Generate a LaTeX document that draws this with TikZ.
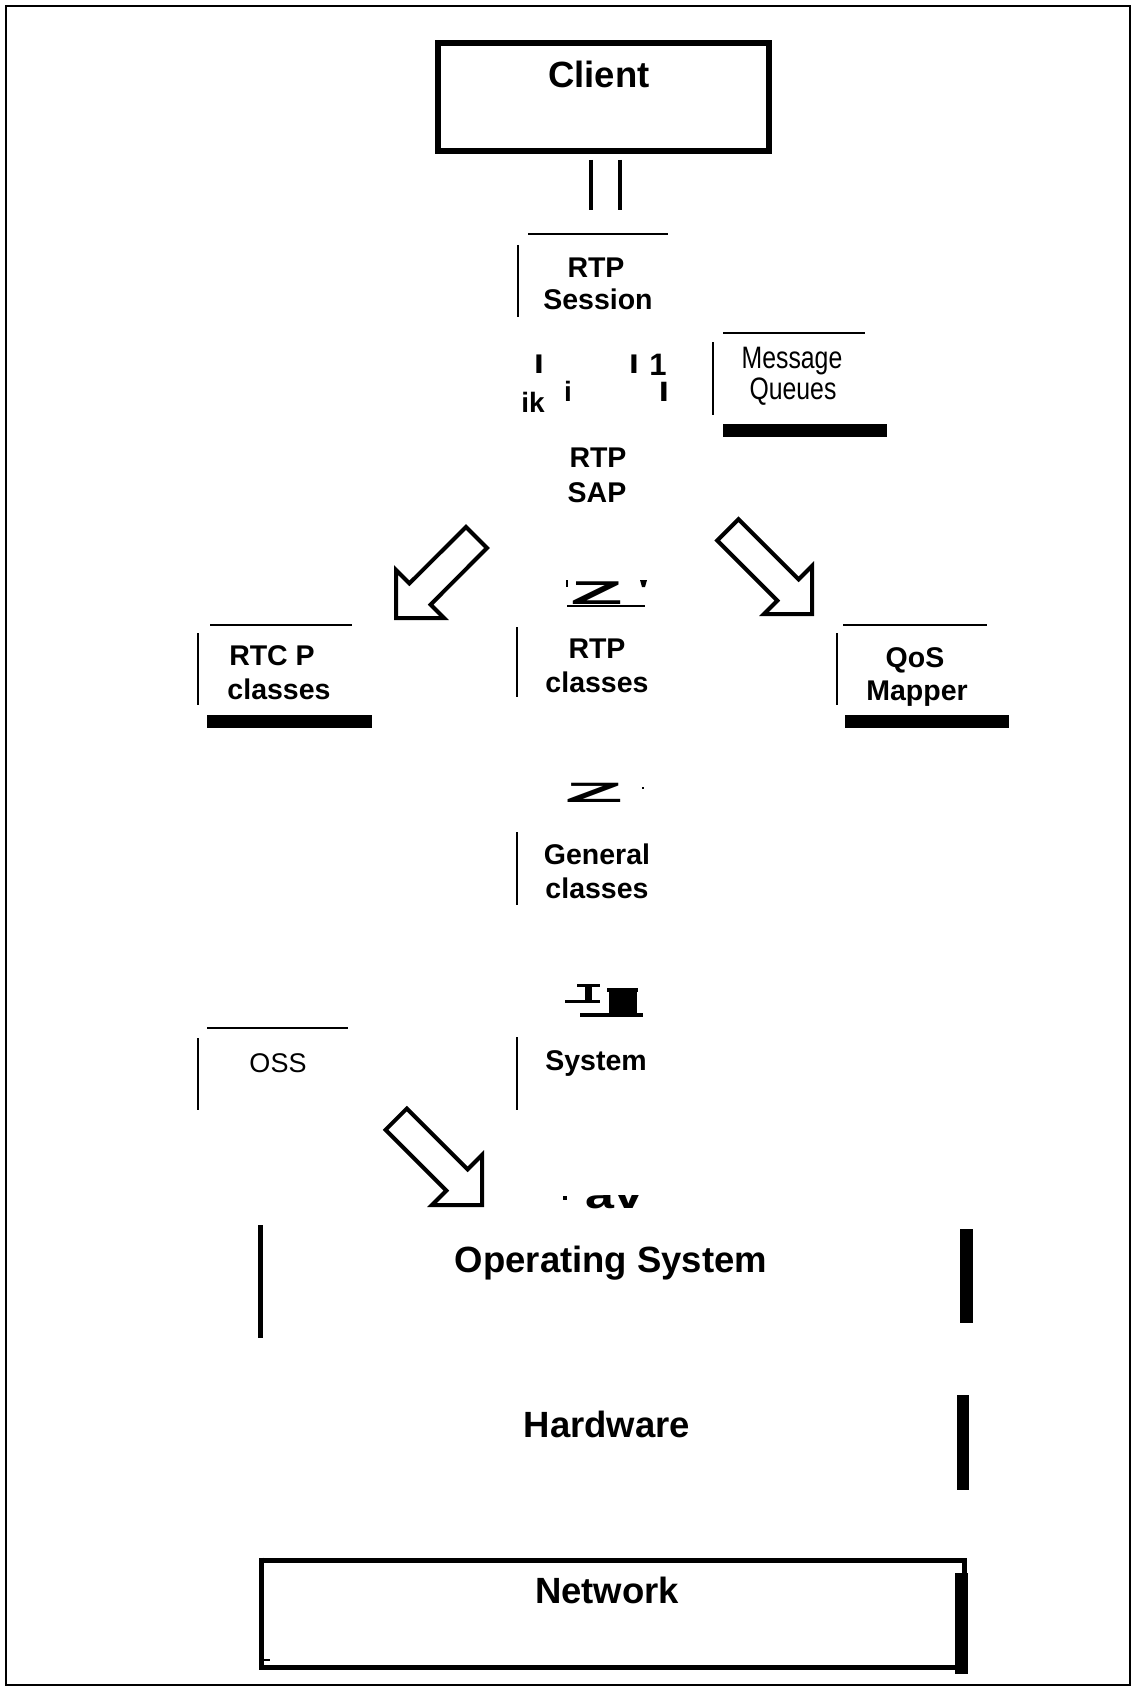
\documentclass[tikz,border=0pt]{standalone}
\usepackage{fontspec}
\setmainfont{Liberation Sans}
\newfontfamily\narrowfont[FakeStretch=0.8]{Liberation Sans}
\usetikzlibrary{calc}
\tikzset{
  lbl/.style={inner sep=0pt, anchor=base, font=\bfseries\fontsize{28.5}{30}\selectfont},
  lblbig/.style={inner sep=0pt, anchor=base, font=\bfseries\fontsize{36.5}{38}\selectfont},
  msg/.style={inner sep=0pt, anchor=base, font=\narrowfont\fontsize{31}{33}\selectfont},
  reg/.style={inner sep=0pt, anchor=base, font=\fontsize{27}{29}\selectfont},
  frag/.style={inner sep=0pt, anchor=base, font=\bfseries\fontsize{26}{28}\selectfont},
  thinline/.style={line width=1.5pt},
  rule/.style={line width=5pt},
  bar/.style={fill=black, draw=none},
  blockarrow/.style={draw=black, line width=4pt, fill=white, line join=miter},
  frame/.style={line width=2pt}
}
\begin{document}
\begin{tikzpicture}[x=1pt,y=-1pt]
\useasboundingbox (0,0) rectangle (1132,1688);
\draw[frame] (6,6) rectangle (1130,1685);

% Client
\draw[line width=6pt] (438,43) rectangle (769,151);
\node[lblbig] (client) at (599,88) {Client};
\coordinate (c1a) at (591,160); \coordinate (c1b) at (591,210);
\coordinate (c2a) at (620,160); \coordinate (c2b) at (620,210);
\draw[line width=4.5pt] (c1a) -- (c1b);
\draw[line width=4.5pt] (c2a) -- (c2b);

% RTP Session
\draw[thinline] (528,234) -- (668,234);
\draw[thinline] (518,245) -- (518,317);
\node[lbl] (sess1) at (596,277) {RTP};
\node[lbl] (sess2) at (598,309) {Session};

% fragments
\node[frag, font=\bfseries\fontsize{27}{29}\selectfont] (f1) at (539,373) {\scalebox{1.3}[1]{I}};
\node[frag, font=\bfseries\fontsize{27}{29}\selectfont] (f2) at (634,373) {\scalebox{1.3}[1]{I}};
\node[frag, font=\bfseries\fontsize{31}{33}\selectfont] (f3) at (658,375) {1};
\node[frag, font=\bfseries\fontsize{28}{30}\selectfont] (f4) at (568,401) {i};
\node[frag, font=\bfseries\fontsize{28}{30}\selectfont] (f5) at (664,401) {\scalebox{1.3}[1]{I}};
\node[frag, font=\bfseries\fontsize{28}{30}\selectfont] (f6) at (533,412) {ik};

% Message Queues
\draw[thinline] (723,333) -- (865,333);
\draw[thinline] (713,342) -- (713,415);
\fill[bar] (723,424) rectangle (887,437);
\node[msg] (mq1) at (792,368) {Message};
\node[msg] (mq2) at (793,399) {Queues};

% RTP SAP
\node[lbl] (sap1) at (598,467) {RTP};
\node[lbl] (sap2) at (597,502) {SAP};

% Z fragment 1
\node[inner sep=0pt, anchor=base, font=\bfseries\fontsize{33}{35}\selectfont] (z1) at (596.5,604) {\scalebox{2.6}[1]{Z}};
\fill (565.5,580) rectangle (567.5,587);
\fill (640,580) -- (647,580) -- (645,587) -- (642,587) -- cycle;
\draw[line width=2pt] (567,606) -- (645,606);

% block arrows
\draw[blockarrow] (466,527) -- (487,548) -- (430.6,604.6) -- (444,618) -- (396,618) -- (396,570) -- (409.4,583.4) -- cycle;
\draw[blockarrow] (738.5,519.3) -- (798.6,579.4) -- (812,566) -- (812,614) -- (764,614) -- (777.4,600.6) -- (717.3,540.5) -- cycle;

% RTC P classes
\draw[thinline] (210,625) -- (352,625);
\draw[thinline] (198,633) -- (198,705);
\fill[bar] (207,715) rectangle (372,728);
\node[lbl] (rtcp1) at (272,665) {RTC P};
\node[lbl] (rtcp2) at (279,699) {classes};

% RTP classes
\draw[thinline] (517,627) -- (517,697);
\node[lbl] (rtpc1) at (597,658) {RTP};
\node[lbl] (rtpc2) at (597,692) {classes};

% QoS Mapper
\draw[thinline] (843,625) -- (987,625);
\draw[thinline] (837,633) -- (837,705);
\fill[bar] (845,715) rectangle (1009,728);
\node[lbl] (qos1) at (915,667) {QoS};
\node[lbl] (qos2) at (917,700) {Mapper};

% Z fragment 2
\node[inner sep=0pt, anchor=base, font=\bfseries\fontsize{28}{30}\selectfont] (z2) at (594,802) {\scalebox{3.4}[1]{Z}};
\fill (642,787) rectangle (644,789);

% General classes
\draw[thinline] (517,832) -- (517,905);
\node[lbl] (gen1) at (597,864) {General};
\node[lbl] (gen2) at (597,898) {classes};

% blob fragment
\fill (577,984) rectangle (600,987);
\fill (565,1000) rectangle (600,1003);
\fill (585,986) rectangle (592,1001);
\fill (607,988) rectangle (638,992);
\fill (609,992) rectangle (637,1016);
\fill (580,1013) rectangle (643,1017);
\fill (516,1037) rectangle (518,1039);

% OSS / System
\draw[thinline] (207,1028) -- (348,1028);
\draw[thinline] (198,1038) -- (198,1110);
\node[reg] (oss) at (278,1072) {OSS};
\draw[thinline] (517,1038) -- (517,1110);
\node[lbl] (sys) at (596,1070) {System};

% bottom arrow
\draw[blockarrow] (406.8,1108.6) -- (467.6,1169.4) -- (482,1155) -- (482,1205) -- (432,1205) -- (446.4,1190.6) -- (385.6,1129.8) -- cycle;

% av fragment
\begin{scope}
\clip (570,1195) rectangle (660,1215);
\node[inner sep=0pt, anchor=base, font=\bfseries\fontsize{40}{42}\selectfont] (av) at (614,1208) {\scalebox{1.3}[1]{av}};
\end{scope}
\fill (563,1196) rectangle (567,1200);

% Operating System
\draw[rule] (260.5,1225) -- (260.5,1338);
\fill[bar] (960,1229) rectangle (973,1323);
\node[lblbig] (os) at (611,1272) {Operating System};

% Hardware
\fill[bar] (957,1395) rectangle (969,1490);
\node[lblbig] (hw) at (607,1437) {Hardware};

% Network
\draw[rule] (261,1560) -- (964,1560) -- (964,1573);
\draw[rule] (261,1557.5) -- (261,1667.5) -- (958,1667.5);
\fill[bar] (955,1573) rectangle (968,1674);
\fill (264,1659) rectangle (270,1661);
\node[lblbig] (net) at (607,1603) {Network};
\end{tikzpicture}
\end{document}
